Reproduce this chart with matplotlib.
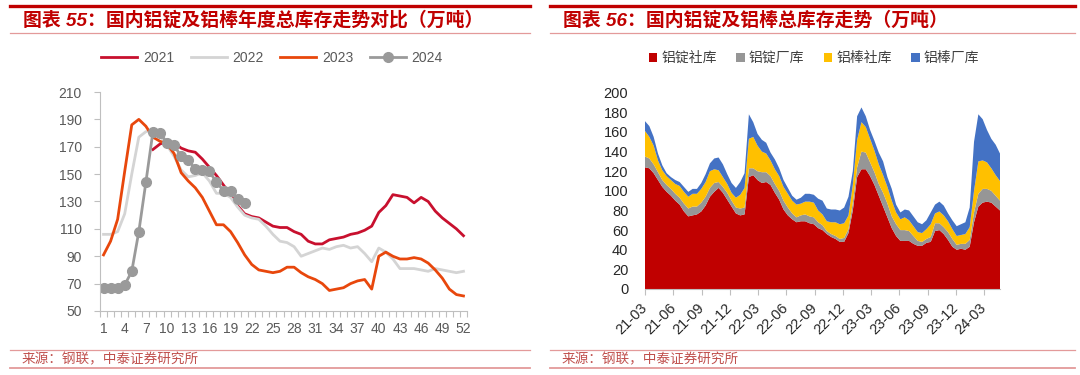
import matplotlib
matplotlib.use("Agg")
import matplotlib.pyplot as plt
import numpy as np
import pandas as pd
import matplotlib.dates as mdates
from matplotlib.lines import Line2D

plt.rcParams['font.family'] = ['Liberation Sans', 'Noto Sans CJK SC', 'DejaVu Sans']

# --- Data: left chart (weekly total stock by year, 万吨) -----------------------

weeks = list(range(1, 53))

stock_2021 = [None, None, None, None, None, None, None,
              168, 172, 174, 173, 169, 167, 166, 161, 155, 149,
              142, 135, 127, 121, 119, 118, 115, 112, 111, 111,
              108, 106, 101, 99, 99, 102, 103, 104, 106, 107,
              109, 112, 122, 127, 135, 134, 133, 129, 133, 130,
              123, 118, 114, 110, 105]

stock_2022 = [106, 106, 108, 121, 150, 177, 181, 182, 178, 171,
              163, 153, 148, 149, 151, 145, 136, 136, 133, 126,
              120, 118, 117, 112, 106, 101, 100, 97, 90, 92,
              94, 96, 95, 97, 98, 96, 97, 92, 86, 96,
              93, 88, 81, 81, 81, 80, 79, 81, 80, 79,
              78, 79]

stock_2023 = [91, 101, 117, 152, 186, 190, 185, 177, 174, 172,
              165, 151, 145, 140, 133, 123, 113, 113, 108, 100,
              91, 84, 80, 79, 78, 79, 82, 82, 78, 75,
              73, 70, 65, 66, 67, 70, 72, 73, 66, 90,
              93, 90, 88, 88, 89, 88, 85, 80, 74, 66,
              62, 61]

stock_2024 = [67, 67, 67, 69, 79, 108, 144, 181, 180, 173,
              171, 163, 160, 154, 153, 152, 144, 138, 138, 132,
              129]

# --- Data: right chart (biweekly stacked stock, 万吨) ---------------------------

start_date = "2021-03-01"

ingot_social = [124, 123, 118, 111, 104, 99, 95, 90, 86, 79,
                74, 75, 76, 79, 85, 94, 99, 103, 98, 91,
                84, 77, 75, 76, 114, 116, 111, 108, 109, 106,
                98, 91, 81, 75, 71, 68, 69, 69, 67, 66,
                62, 60, 56, 53, 51, 48, 48, 57, 80, 114,
                122, 122, 115, 106, 95, 84, 73, 62, 54, 49,
                49, 49, 46, 44, 44, 47, 48, 59, 60, 56,
                50, 43, 40, 41, 40, 43, 68, 84, 88, 89,
                88, 84, 80]

ingot_plant = [11, 10, 9, 8, 7, 7, 7, 7, 7, 8,
               8, 9, 8, 9, 9, 9, 9, 6, 6, 7,
               6, 6, 7, 7, 9, 7, 9, 11, 10, 9,
               9, 9, 9, 8, 6, 5, 6, 7, 7, 7,
               6, 5, 3, 3, 3, 3, 4, 4, 8, 10,
               18, 17, 14, 13, 12, 14, 14, 12, 12, 11,
               11, 10, 8, 5, 4, 4, 5, 8, 7, 7,
               8, 8, 5, 5, 6, 7, 10, 13, 14, 13,
               12, 11, 10]

bar_social = [26, 22, 19, 12, 10, 9, 9, 10, 12, 12,
              12, 13, 13, 14, 15, 17, 14, 12, 10, 9,
              8, 10, 14, 20, 30, 32, 26, 21, 19, 16,
              15, 15, 14, 14, 13, 13, 12, 13, 15, 15,
              12, 11, 10, 12, 14, 15, 15, 14, 18, 28,
              30, 26, 24, 22, 20, 18, 17, 16, 12, 11,
              13, 11, 10, 9, 9, 10, 13, 10, 12, 12,
              11, 10, 9, 9, 10, 13, 22, 33, 29, 27,
              23, 21, 20]

bar_plant = [10, 11, 9, 7, 5, 3, 3, 4, 4, 5,
             5, 5, 5, 6, 8, 8, 11, 13, 13, 10,
             10, 10, 13, 15, 25, 15, 12, 12, 11, 8,
             10, 8, 7, 6, 5, 5, 6, 8, 8, 8,
             12, 14, 13, 13, 13, 14, 16, 19, 14, 24,
             15, 11, 9, 10, 12, 14, 10, 12, 8, 7,
             8, 10, 10, 10, 9, 9, 12, 9, 10, 10,
             8, 9, 10, 11, 12, 20, 50, 48, 42, 33,
             30, 31, 28]

stack_labels = ["铝锭社库", "铝锭厂库", "铝棒社库", "铝棒厂库"]

# --- Figure -------------------------------------------------------------------

W, H = 1080, 375


def fx(x):
    return x / W


def fy(y):
    return 1 - y / H


fig = plt.figure(figsize=(W / 100, H / 100), dpi=100)
fig.patch.set_facecolor("white")

title_red = "#C00000"
line_pink = "#E39A9A"

# header bars, titles, footer
for x0, x1, title in [(10, 530, "图表 55：国内铝锭及铝棒年度总库存走势对比（万吨）"),
                      (550, 1075, "图表 56：国内铝锭及铝棒总库存走势（万吨）")]:
    fig.add_artist(Line2D([fx(x0), fx(x1)], [fy(6), fy(6)], color=title_red, lw=2.4,
                          transform=fig.transFigure))
    fig.add_artist(Line2D([fx(x0), fx(x1)], [fy(33), fy(33)], color=line_pink, lw=0.9,
                          transform=fig.transFigure))
    fig.add_artist(Line2D([fx(x0), fx(x1)], [fy(350), fy(350)], color=line_pink, lw=0.9,
                          transform=fig.transFigure))
    fig.add_artist(Line2D([fx(x0), fx(x1)], [fy(368), fy(368)], color=line_pink, lw=1.3,
                          transform=fig.transFigure))
    fig.text(fx(x0 + 13), fy(20), title, color=title_red, fontsize=13.6,
             fontweight="bold", style="italic", ha="left", va="center")
    fig.text(fx(x0 + 12), fy(359), "来源：钢联，中泰证券研究所", color="#C0504D",
             fontsize=9.8, ha="left", va="center")

# --- Left chart ---------------------------------------------------------------

axis_gray = "#BFBFBF"
label_gray = "#595959"

ax1 = fig.add_axes([fx(100), fy(311), fx(467) - fx(100), fy(92) - fy(311)])
ax1.plot(weeks, np.array(stock_2021, dtype=float), color="#C8102E", lw=2, label="2021")
ax1.plot(weeks, np.array(stock_2022, dtype=float), color="#D4D4D4", lw=2, label="2022")
ax1.plot(weeks, np.array(stock_2023, dtype=float), color="#E8470C", lw=2, label="2023")
ax1.plot(weeks[:len(stock_2024)], stock_2024, color="#9A9A9A", lw=2, marker="o",
         markersize=7, label="2024")

ax1.set_xlim(0.5, 52.5)
ax1.set_ylim(50, 210)
ax1.set_yticks(range(50, 211, 20))
ax1.set_xticks(weeks[::3])
ax1.set_xticks(np.arange(0.5, 53, 1), minor=True)
ax1.tick_params(axis="x", which="major", length=0, pad=8, labelsize=10, labelcolor=label_gray)
ax1.tick_params(axis="x", which="minor", length=4, color=axis_gray, width=0.8)
ax1.tick_params(axis="y", length=4, color=axis_gray, width=0.8, pad=9,
                labelsize=10, labelcolor=label_gray)
for side in ["top", "right"]:
    ax1.spines[side].set_visible(False)
for side in ["left", "bottom"]:
    ax1.spines[side].set_color(axis_gray)
    ax1.spines[side].set_linewidth(0.8)

ax1.legend(loc="center", bbox_to_anchor=(fx(272), fy(58)), bbox_transform=fig.transFigure,
           ncol=4, frameon=False, fontsize=10, handlelength=2.6, handletextpad=0.4,
           columnspacing=1.2, labelcolor=label_gray)

# --- Right chart --------------------------------------------------------------

dates = pd.date_range(start_date, periods=len(ingot_social), freq="14D")

ax2 = fig.add_axes([fx(645), fy(289), fx(1000) - fx(645), fy(92.7) - fy(289)])
ax2.stackplot(dates, ingot_social, ingot_plant, bar_social, bar_plant,
              colors=["#C00000", "#969696", "#FFC000", "#4472C4"],
              labels=stack_labels, linewidth=0)

ax2.set_xlim(dates[0], dates[-1])
ax2.set_ylim(0, 200)
ax2.set_yticks(range(0, 201, 20))
quarter_ticks = pd.date_range("2021-03-01", "2024-03-01", freq="3MS")
ax2.set_xticks(quarter_ticks)
ax2.xaxis.set_major_formatter(mdates.DateFormatter("%y-%m"))
for lbl in ax2.get_xticklabels():
    lbl.set_rotation(45)
    lbl.set_ha("right")
    lbl.set_va("center")
    lbl.set_rotation_mode("anchor")
ax2.tick_params(axis="x", length=4, color=axis_gray, width=0.8, pad=8,
                labelsize=10.5, labelcolor="#262626")
ax2.tick_params(axis="y", length=0, pad=12, labelsize=10.5, labelcolor="#262626")
for side in ["top", "right", "left"]:
    ax2.spines[side].set_visible(False)
ax2.spines["bottom"].set_color(axis_gray)
ax2.spines["bottom"].set_linewidth(0.8)

ax2.legend(loc="center", bbox_to_anchor=(fx(814), fy(58)), bbox_transform=fig.transFigure,
           ncol=4, frameon=False, fontsize=10, handlelength=0.6, handleheight=0.6,
           handletextpad=0.3, columnspacing=1.4, labelcolor="#404040")

plt.savefig("out.png", dpi=100)
plt.close()
